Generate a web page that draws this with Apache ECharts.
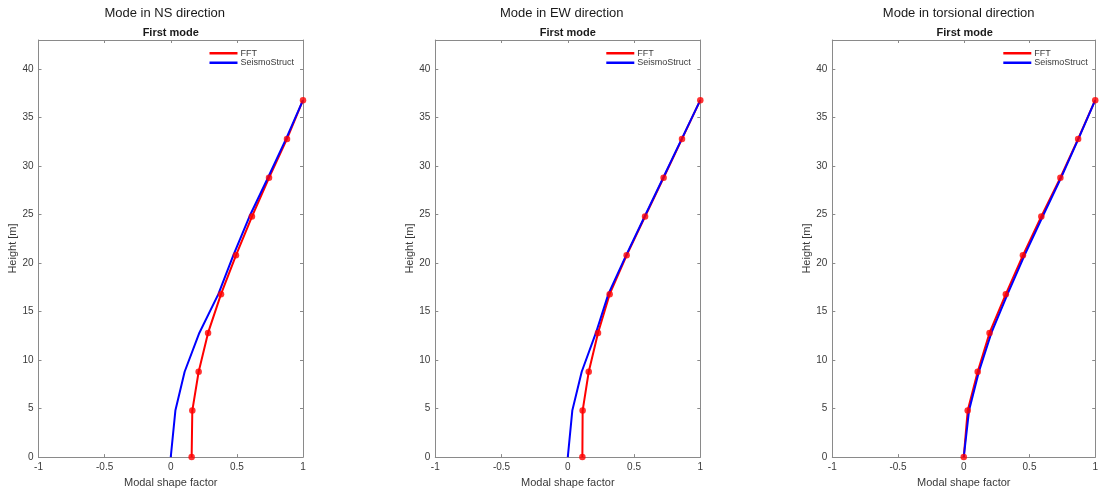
<!DOCTYPE html>
<html>
<head>
<meta charset="utf-8">
<script src="https://cdn.jsdelivr.net/npm/echarts@6/dist/echarts.min.js"></script>
<style>
  html, body { margin: 0; padding: 0; background: #ffffff; }
  #chart { width: 1101px; height: 493px; }
</style>
</head>
<body>
<div id="chart"></div>
<script>
// Storey heights (m) at which the first mode shape is sampled
const heights = [0, 4.8, 8.8, 12.8, 16.8, 20.8, 24.8, 28.8, 32.8, 36.8];

// Normalised first-mode shape factors
const nsFFT      = [0.158, 0.163, 0.211, 0.282, 0.380, 0.493, 0.614, 0.743, 0.879, 1.0];
const nsSeismo   = [0.000, 0.035, 0.105, 0.216, 0.360, 0.473, 0.595, 0.735, 0.872, 1.0];
const ewFFT      = [0.110, 0.112, 0.158, 0.228, 0.316, 0.444, 0.583, 0.723, 0.862, 1.0];
const ewSeismo   = [0.000, 0.034, 0.105, 0.212, 0.306, 0.440, 0.580, 0.720, 0.860, 1.0];
const torFFT     = [0.000, 0.030, 0.106, 0.196, 0.320, 0.450, 0.590, 0.735, 0.870, 1.0];
const torSeismo  = [0.000, 0.040, 0.115, 0.210, 0.333, 0.462, 0.600, 0.740, 0.872, 1.0];

const panelTitles = ['Mode in NS direction', 'Mode in EW direction', 'Mode in torsional direction'];
const subTitle = 'First mode';
const yTicks = [0, 5, 10, 15, 20, 25, 30, 35, 40];
const seriesNames = ['FFT', 'SeismoStruct'];

const panels = [
  { fft: nsFFT,  seismo: nsSeismo },
  { fft: ewFFT,  seismo: ewSeismo },
  { fft: torFFT, seismo: torSeismo }
];

const FONT = '"Liberation Sans", Arial, Helvetica, sans-serif';
const AXIS_COLOR = '#8a8a8a';
const TEXT_COLOR = '#3a3a3a';

const grids = [
  { left: 38.5,  top: 40, width: 264.5, height: 419 },
  { left: 435.3, top: 40, width: 265,   height: 419 },
  { left: 832.3, top: 40, width: 264.8, height: 419 }
];

const pairs = (xs) => xs.map((x, i) => [x, heights[i]]);

const xAxes = [], yAxes = [], series = [], titles = [], legends = [];

grids.forEach((g, k) => {
  const cx = g.left + g.width / 2;
  titles.push({
    text: panelTitles[k], left: cx - 11, top: 2, textAlign: 'center',
    textStyle: { fontFamily: FONT, fontSize: 13, fontWeight: 'normal', color: '#1a1a1a' }
  });
  titles.push({
    text: subTitle, left: cx - 5, top: 22, textAlign: 'center',
    textStyle: { fontFamily: FONT, fontSize: 11, fontWeight: 'bold', color: '#1a1a1a' }
  });

  const baseX = {
    type: 'value', gridIndex: k, min: -1, max: 1, interval: 0.5,
    axisLine: { show: true, onZero: false, lineStyle: { color: AXIS_COLOR, width: 1 } },
    axisTick: { show: true, inside: true, length: 3, lineStyle: { color: AXIS_COLOR } },
    splitLine: { show: false }
  };
  xAxes.push(Object.assign({}, baseX, {
    position: 'bottom',
    name: 'Modal shape factor', nameLocation: 'middle', nameGap: 16,
    nameTextStyle: { fontFamily: FONT, fontSize: 11, color: TEXT_COLOR },
    axisLabel: { fontFamily: FONT, fontSize: 10, color: TEXT_COLOR, margin: 5 }
  }));
  xAxes.push(Object.assign({}, baseX, { position: 'top', axisLabel: { show: false } }));

  const baseY = {
    type: 'value', gridIndex: k, min: 0, max: 43,
    axisLine: { show: true, onZero: false, lineStyle: { color: AXIS_COLOR, width: 1 } },
    axisTick: { show: true, inside: true, length: 3, customValues: yTicks, lineStyle: { color: AXIS_COLOR } },
    splitLine: { show: false }
  };
  yAxes.push(Object.assign({}, baseY, {
    position: 'left',
    name: 'Height [m]', nameLocation: 'middle', nameGap: 17,
    nameTextStyle: { fontFamily: FONT, fontSize: 11, color: TEXT_COLOR },
    axisLabel: { fontFamily: FONT, fontSize: 10, color: TEXT_COLOR, margin: 5, customValues: yTicks }
  }));
  yAxes.push(Object.assign({}, baseY, { position: 'right', axisLabel: { show: false } }));

  const p = panels[k];
  series.push({
    name: seriesNames[0], type: 'line', xAxisIndex: 2 * k, yAxisIndex: 2 * k,
    data: pairs(p.fft), showSymbol: false, symbol: 'none', z: 2,
    lineStyle: { color: '#ff0000', width: 2 }, itemStyle: { color: '#ff0000' }
  });
  series.push({
    name: seriesNames[1], type: 'line', xAxisIndex: 2 * k, yAxisIndex: 2 * k,
    data: pairs(p.seismo), showSymbol: false, symbol: 'none', z: 3,
    lineStyle: { color: '#0000ff', width: 2 }, itemStyle: { color: '#0000ff' }
  });
  series.push({
    name: 'FFT points', type: 'scatter', xAxisIndex: 2 * k, yAxisIndex: 2 * k,
    data: pairs(p.fft), symbol: 'circle', symbolSize: 6.5, z: 4,
    itemStyle: { color: '#ff0000' }
  });

  legends.push({
    data: seriesNames, orient: 'vertical', left: g.left + 171, top: 48.5,
    icon: 'rect', itemWidth: 28, itemHeight: 2.5, itemGap: 0,
    selectedMode: false,
    textStyle: { fontFamily: FONT, fontSize: 9, color: TEXT_COLOR, lineHeight: 9.5, padding: [0, 0, 0, -2] },
    padding: 0
  });
});

const chart = echarts.init(document.getElementById('chart'), null, { renderer: 'canvas' });
chart.setOption({
  animation: false,
  backgroundColor: '#ffffff',
  title: titles,
  legend: legends,
  grid: grids,
  xAxis: xAxes,
  yAxis: yAxes,
  series: series
});
</script>
</body>
</html>
